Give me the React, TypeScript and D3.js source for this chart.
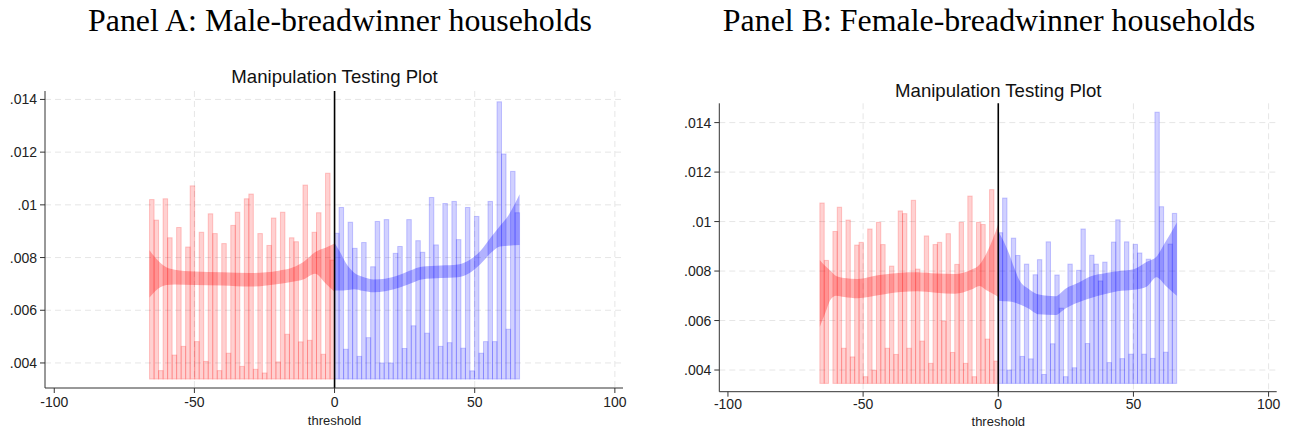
import React from 'react'
import * as d3 from 'd3'

// densities are written as density x 1000 (per mille), ticks use the same unit
const binCount = 41
const support = 66

const yTicks = [4, 6, 8, 10, 12, 14]
const yTickLabels = ['.004', '.006', '.008', '.01', '.012', '.014']
const xTicks = [-100, -50, 0, 50, 100]
const xGrid = [-50, 50, 100]

// Panel A: male-breadwinner households
const maleLeftHist = [10.2, 9.42, 3.71, 10.23, 8.75, 4.3, 9.14, 4.63, 8.4, 10.72, 4.81, 8.96, 4.06, 9.66, 8.91, 3.71, 8.53, 4.37, 9.22, 9.72, 3.87, 10.23, 10.41, 3.76, 8.91, 3.62, 8.46, 9.5, 4.04, 9.72, 5.09, 8.75, 8.6, 4.8, 10.75, 4.86, 8.96, 9.7, 4.33, 11.2, 7.9]
const maleRightHist = [8.92, 9.9, 4.52, 9.34, 8.35, 4.25, 8.57, 4.96, 7.65, 9.37, 4.0, 9.44, 4.0, 8.16, 8.42, 4.55, 9.44, 5.41, 8.64, 8.2, 5.13, 10.28, 8.48, 4.63, 10.05, 4.77, 10.13, 8.68, 4.56, 9.9, 3.7, 9.56, 4.37, 4.81, 10.13, 4.81, 13.91, 11.93, 5.28, 11.27, 9.7]

const maleLeftBandX = [-66, -64, -62, -60, -57, -50, -40, -30, -20, -15, -11, -7, -3, 0]
const maleLeftBandHi = [8.28, 8.0, 7.78, 7.63, 7.54, 7.47, 7.44, 7.41, 7.5, 7.62, 7.84, 8.2, 8.38, 8.53]
const maleLeftBandLo = [6.48, 6.72, 6.88, 6.96, 6.98, 6.96, 6.94, 6.9, 7.0, 7.08, 7.18, 7.39, 7.0, 6.7]

const maleRightBandX = [0, 2, 4, 7, 10, 14, 18, 23, 28, 31, 38, 44, 48, 52, 56, 59, 62, 66]
const maleRightBandHi = [8.55, 8.2, 7.8, 7.42, 7.27, 7.17, 7.2, 7.34, 7.55, 7.65, 7.7, 7.74, 7.9, 8.25, 8.8, 9.2, 9.6, 10.4]
const maleRightBandLo = [6.75, 6.75, 6.76, 6.8, 6.74, 6.68, 6.72, 6.85, 7.05, 7.17, 7.22, 7.25, 7.4, 7.75, 8.2, 8.42, 8.45, 8.48]

// Panel B: female-breadwinner households
const femaleLeftHist = [10.75, 8.43, 3.46, 9.6, 10.58, 4.88, 10.06, 4.53, 9.05, 9.16, 3.73, 9.7, 3.99, 9.97, 9.07, 4.88, 8.2, 4.63, 10.43, 10.32, 4.88, 10.86, 8.08, 5.17, 9.42, 4.27, 9.07, 9.16, 5.98, 9.51, 4.71, 8.27, 9.97, 4.27, 11.03, 3.73, 9.97, 9.88, 5.25, 11.29, 4.36]
const femaleRightHist = [9.55, 10.95, 4.0, 9.33, 8.63, 4.55, 8.28, 4.45, 7.85, 8.46, 3.82, 9.18, 5.06, 7.84, 6.5, 3.73, 8.28, 4.09, 8.03, 9.7, 5.07, 8.64, 8.28, 7.6, 8.36, 4.3, 9.17, 10.07, 4.46, 9.18, 4.64, 9.08, 8.73, 4.64, 8.48, 4.47, 14.42, 10.6, 4.72, 9.09, 10.33]

const femaleLeftBandX = [-66, -64, -62, -60, -57, -52, -44, -36, -30, -23, -16, -10, -7, -4, -2, 0]
const femaleLeftBandHi = [8.45, 8.2, 8.0, 7.8, 7.72, 7.68, 7.84, 7.93, 7.95, 7.9, 7.88, 8.05, 8.25, 8.8, 9.3, 9.9]
const femaleLeftBandLo = [5.75, 6.3, 6.85, 7.0, 6.95, 6.9, 7.03, 7.15, 7.18, 7.12, 7.08, 7.25, 7.4, 7.2, 7.08, 6.95]

const femaleRightBandX = [0, 2, 4, 6, 8, 11, 15, 21, 25, 30, 34, 40, 44, 50, 55, 58.5, 62, 66]
const femaleRightBandHi = [9.6, 9.2, 8.7, 8.1, 7.6, 7.3, 7.05, 6.98, 7.3, 7.55, 7.78, 7.92, 7.99, 8.07, 8.38, 8.58, 9.2, 9.95]
const femaleRightBandLo = [6.8, 6.78, 6.77, 6.73, 6.65, 6.5, 6.25, 6.22, 6.5, 6.75, 6.9, 7.08, 7.18, 7.24, 7.38, 7.75, 7.4, 7.0]

const sans = '"Liberation Sans", Arial, sans-serif'
const serif = '"Liberation Serif", "Times New Roman", serif'

const RED = '255,0,0'
const BLUE = '0,0,255'

type Layout = {
  left: number; right: number; top: number; bottom: number
  xDomain: [number, number]; yDomain: [number, number]; base: number
  titleY: number; tickY: number; labelY: number
}

function Panel({ layout, leftHist, rightHist, lBand, rBand }: {
  layout: Layout
  leftHist: number[]; rightHist: number[]
  lBand: [number[], number[], number[]]; rBand: [number[], number[], number[]]
}) {
  const { left, right, top, bottom } = layout
  const x = d3.scaleLinear().domain(layout.xDomain).range([left, right])
  const y = d3.scaleLinear().domain(layout.yDomain).range([bottom, top])
  const leftEdge = d3.scaleLinear().domain([0, binCount]).range([-support, 0])
  const rightEdge = d3.scaleLinear().domain([0, binCount]).range([0, support])

  const bars = (hist: number[], edge: d3.ScaleLinear<number, number>, rgb: string) =>
    hist.map((v, i) => {
      const x0 = x(edge(i)), x1 = x(edge(i + 1))
      const yTop = y(Math.max(v, layout.base))
      return (
        <rect key={i} x={x0} y={yTop} width={x1 - x0} height={y(layout.base) - yTop}
          fill={`rgba(${rgb},0.18)`} stroke={`rgba(${rgb},0.2)`} strokeWidth={1} />
      )
    })

  const band = (b: [number[], number[], number[]], rgb: string) => {
    const pts = b[0].map((xv, i) => ({ x: xv, lo: b[1][i], hi: b[2][i] }))
    const area = d3.area<{ x: number; lo: number; hi: number }>()
      .x(d => x(d.x)).y0(d => y(d.lo)).y1(d => y(d.hi))
      .curve(d3.curveMonotoneX)
    return <path d={area(pts) || ''} fill={`rgba(${rgb},0.3)`} />
  }

  const cx = x(0)
  return (
    <g>
      <text x={cx} y={layout.titleY} textAnchor="middle" fontFamily={sans} fontSize={18.6} fill="#111">
        Manipulation Testing Plot
      </text>
      {yTicks.map(t => (
        <line key={'gy' + t} x1={left} x2={right} y1={y(t)} y2={y(t)} stroke="#e6e6e6" strokeWidth={1} strokeDasharray="6,4" />
      ))}
      {xGrid.map(t => (
        <line key={'gx' + t} x1={x(t)} x2={x(t)} y1={top} y2={bottom} stroke="#e6e6e6" strokeWidth={1} strokeDasharray="6,4" />
      ))}
      {bars(leftHist, leftEdge, RED)}
      {bars(rightHist, rightEdge, BLUE)}
      {band(lBand, RED)}
      {band(rBand, BLUE)}
      <line x1={cx} x2={cx} y1={top} y2={bottom} stroke="#000" strokeWidth={1.6} />
      <line x1={left} x2={left} y1={top} y2={bottom} stroke="#333" strokeWidth={1} />
      <line x1={left} x2={right} y1={bottom} y2={bottom} stroke="#333" strokeWidth={1} />
      {yTicks.map((t, i) => (
        <g key={'ty' + t}>
          <line x1={left - 5} x2={left} y1={y(t)} y2={y(t)} stroke="#333" />
          <text x={left - 8} y={y(t)} dy="0.36em" textAnchor="end" fontFamily={sans} fontSize={14} fill="#222">
            {yTickLabels[i]}
          </text>
        </g>
      ))}
      {xTicks.map(t => (
        <g key={'tx' + t}>
          <line x1={x(t)} x2={x(t)} y1={bottom} y2={bottom + 5} stroke="#333" />
          <text x={x(t)} y={layout.tickY} textAnchor="middle" fontFamily={sans} fontSize={14} fill="#222">
            {t}
          </text>
        </g>
      ))}
      <text x={cx} y={layout.labelY} textAnchor="middle" fontFamily={sans} fontSize={13} fill="#222">
        threshold
      </text>
    </g>
  )
}

const layoutA: Layout = {
  left: 45, right: 623, top: 91, bottom: 388,
  xDomain: [-103.3, 102.9], yDomain: [3.05, 14.32], base: 3.39,
  titleY: 83.4, tickY: 406.7, labelY: 425,
}
const layoutB: Layout = {
  left: 719.3, right: 1276.7, top: 103.3, bottom: 391.7,
  xDomain: [-103.2, 103.0], yDomain: [3.124, 14.78], base: 3.46,
  titleY: 96.7, tickY: 409.3, labelY: 426.4,
}

export default function App() {
  return (
    <svg width={1289} height={434} style={{ position: 'absolute', left: 0, top: 0, background: '#fff' }}>
      <rect width={1289} height={434} fill="#fff" />
      <text x={340} y={31} textAnchor="middle" fontFamily={serif} fontSize={31.9} fill="#000">
        Panel A: Male-breadwinner households
      </text>
      <text x={989} y={31} textAnchor="middle" fontFamily={serif} fontSize={31.9} fill="#000">
        Panel B: Female-breadwinner households
      </text>
      <Panel layout={layoutA} leftHist={maleLeftHist} rightHist={maleRightHist}
        lBand={[maleLeftBandX, maleLeftBandLo, maleLeftBandHi]}
        rBand={[maleRightBandX, maleRightBandLo, maleRightBandHi]} />
      <Panel layout={layoutB} leftHist={femaleLeftHist} rightHist={femaleRightHist}
        lBand={[femaleLeftBandX, femaleLeftBandLo, femaleLeftBandHi]}
        rBand={[femaleRightBandX, femaleRightBandLo, femaleRightBandHi]} />
    </svg>
  )
}
